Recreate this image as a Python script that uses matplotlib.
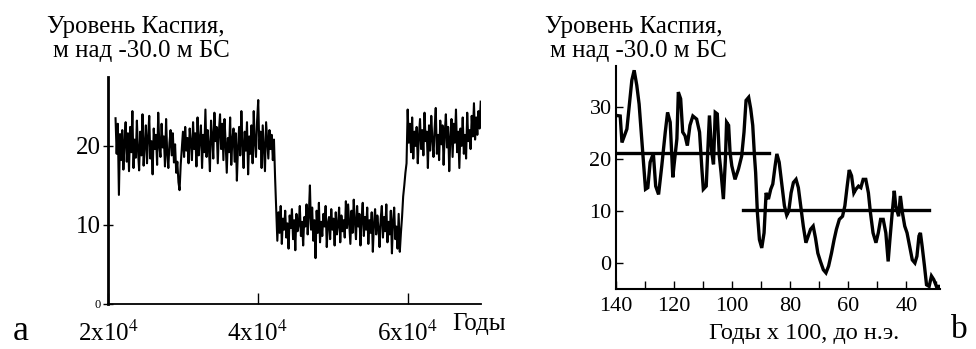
import matplotlib
matplotlib.use("Agg")
import matplotlib.pyplot as plt
import numpy as np

plt.rcParams['font.family'] = ['Liberation Serif', 'DejaVu Serif']
plt.rcParams['mathtext.fontset'] = 'stix'

# --- panel a: model series, level every 150 years starting at 21000 ---
year0 = 21000
step = 150
level_a = [
    # high stand ~20 m
    23.5, 19.0, 22.8, 13.8, 21.5, 18.2, 22.0, 17.0, 20.5, 23.0,
    18.0, 21.6, 16.8, 22.4, 19.2, 24.4, 17.2, 20.8, 18.5, 23.2,
    19.4, 16.9, 21.8, 18.8, 24.0, 17.5, 20.2, 22.6, 17.8, 21.0,
    23.8, 18.4, 20.6, 16.4, 22.2, 19.6, 21.4, 17.6, 24.2, 20.0,
    18.6, 22.8, 19.8, 21.2, 17.4, 23.4, 19.0, 17.2, 20.4, 22.0,
    18.8, 21.6, 17.9, 20.2, 16.6, 18.0, 15.4, 14.4, 17.6, 19.8,
    21.8, 18.6, 22.4, 19.4, 21.0, 17.8, 22.2, 20.4, 18.2, 23.0,
    19.6, 21.6, 17.4, 23.6, 18.8, 20.8, 22.6, 17.2, 21.4, 19.2,
    24.6, 18.6, 22.0, 20.0, 16.8, 23.2, 21.2, 18.4, 24.2, 20.6,
    22.4, 17.8, 21.8, 24.0, 19.6, 22.8, 18.2, 23.4, 20.4, 16.6,
    21.0, 19.2, 23.6, 17.6, 20.8, 22.2, 18.0, 21.6, 15.6, 19.8,
    22.4, 18.8, 24.4, 20.2, 17.2, 21.8, 19.4, 23.0, 16.4, 21.2,
    19.0, 22.6, 17.8, 24.4, 20.4, 18.6, 23.2, 25.8, 19.6, 21.8,
    17.2, 22.6, 19.8, 16.8, 23.0, 20.6, 18.4, 22.0, 19.6, 21.4,
    18.2, 20.8,
    # fall
    16.0, 12.0,
    # low stand ~10 m
    8.0, 11.6, 9.0, 12.4, 7.6, 10.8, 9.4, 11.8, 8.4, 10.2,
    7.0, 11.2, 9.6, 12.0, 8.2, 10.6, 6.8, 11.4, 9.2, 10.0,
    12.4, 8.6, 10.4, 7.4, 11.0, 9.8, 12.6, 8.8, 11.2, 15.0,
    9.4, 12.2, 8.0, 10.6, 5.8, 11.8, 9.0, 12.8, 7.8, 10.4,
    8.6, 11.4, 9.8, 12.4, 7.2, 10.2, 11.0, 8.2, 12.0, 9.4,
    10.8, 7.4, 11.6, 8.8, 10.0, 12.2, 7.8, 11.2, 9.2, 10.6,
    8.4, 13.0, 9.6, 12.6, 10.2, 7.6, 11.8, 9.0, 13.2, 10.4,
    8.2, 12.4, 9.8, 11.4, 7.4, 10.8, 12.8, 8.6, 11.0, 9.4,
    12.2, 7.6, 10.6, 9.0, 11.6, 6.6, 10.2, 12.0, 8.8, 11.2,
    9.6, 7.2, 10.8, 12.4, 8.4, 11.0, 9.2, 12.6, 7.8, 10.4,
    8.8, 11.8, 6.4, 10.6, 12.2, 8.2, 9.8, 7.0, 11.4, 6.6, 9.0,
    # rise
    11.0, 13.6, 15.0, 16.6, 17.8,
    # high stand ~21 m
    24.6, 20.4, 22.8, 19.2, 23.6, 18.4, 21.8, 20.0, 22.4, 17.8,
    21.2, 23.4, 19.6, 22.0, 18.8, 24.2, 20.6, 21.8, 17.2, 22.6,
    19.4, 23.8, 20.8, 18.6, 22.2, 24.8, 19.0, 21.4, 18.2, 23.2,
    20.2, 22.6, 17.6, 21.6, 24.0, 19.8, 22.4, 16.8, 21.0, 23.4,
    18.6, 22.8, 20.4, 24.6, 19.2, 21.8, 17.2, 22.2, 20.0, 23.6,
    19.0, 21.4, 18.4, 24.2, 20.6, 22.0, 19.6, 23.8, 21.2, 25.4,
    20.8, 23.6, 21.4, 24.4, 22.2, 25.6,
]
years_a = year0 + step * np.arange(len(level_a))

# --- panel b: reconstruction, years x100 BC ---
age_b = [139.7, 138.5, 137.9, 136.2, 134.5, 133.7, 132.8, 132.0, 131.1, 130.5,
         129.8, 129.0, 128.2, 127.1, 126.3, 125.3, 124.2, 123.0, 122.2, 121.3,
         120.8, 120.4, 120.0, 119.0, 118.5, 117.7, 117.0, 116.2, 115.4, 114.5,
         113.5, 112.2, 111.2, 110.4, 109.9, 108.9, 108.5, 107.8, 107.0, 106.4,
         105.8, 105.1, 104.4, 103.8, 103.0, 102.3, 101.9, 101.2, 100.7, 100.1,
         99.0, 97.8, 96.7, 95.9, 95.2, 94.3, 93.6, 92.9, 92.3, 91.9,
         91.3, 90.6, 89.8, 89.0, 88.3, 87.5, 86.7, 86.0, 85.2, 84.6,
         83.8, 82.8, 82.0, 81.2, 80.5, 79.7, 78.9, 78.0, 77.2, 76.4,
         75.5, 74.6, 73.8, 73.0, 72.1, 71.3, 70.5, 69.6, 68.6, 67.7,
         66.8, 65.8, 64.9, 64.1, 63.1, 62.0, 61.2, 60.4, 59.7, 58.9,
         58.1, 57.4, 56.5, 55.7, 54.9, 54.0, 53.1, 52.4, 51.5, 50.5,
         49.7, 48.9, 48.0, 47.1, 46.3, 45.7, 44.9, 44.2, 43.7, 42.7,
         42.1, 41.4, 40.6, 39.8, 38.9, 38.0, 37.1, 36.4, 35.7, 35.2,
         34.6, 33.8, 33.1, 32.2, 31.4, 30.6, 29.7, 28.8]
level_b = [28.4, 28.3, 23.2, 25.8, 35.2, 37.1, 34.2, 30.6, 23.9, 19.4,
           14.2, 14.5, 19.4, 21.1, 14.8, 13.2, 18.7, 25.2, 29.0, 27.1,
           21.3, 16.5, 18.7, 23.9, 32.9, 31.6, 25.2, 24.5, 22.6, 26.5,
           28.3, 27.7, 25.2, 18.1, 14.2, 14.8, 20.0, 28.4, 21.3, 19.0,
           29.0, 28.7, 20.6, 17.4, 12.3, 20.0, 27.1, 26.5, 21.3, 18.7,
           16.1, 18.1, 20.6, 25.2, 31.3, 31.9, 29.7, 26.5, 20.6, 17.4,
           9.7, 4.5, 2.9, 5.8, 13.5, 12.3, 14.2, 15.2, 18.7, 21.0,
           19.4, 14.8, 11.0, 9.2, 10.0, 13.5, 15.5, 16.1, 14.5, 11.0,
           7.1, 3.9, 5.2, 6.5, 7.1, 4.8, 1.9, 0.3, -1.3, -1.9,
           -0.6, 1.9, 4.5, 6.5, 8.4, 9.0, 11.0, 14.8, 17.9, 16.8,
           13.5, 14.2, 14.8, 14.5, 16.1, 16.1, 13.5, 9.7, 5.8, 3.9,
           5.8, 8.4, 8.4, 5.8, 0.3, 4.5, 9.7, 13.9, 11.0, 9.0,
           12.9, 9.7, 7.1, 5.8, 3.2, 0.6, 0.0, 1.3, 5.2, 5.8,
           3.2, -0.6, -4.2, -4.5, -2.5, -3.2, -4.5, -4.5]

# mean levels of the two stands
mean_high = 21.1
mean_high_span = (140, 87.2)
mean_low = 10.2
mean_low_span = (96.4, 32.2)

fig = plt.figure(figsize=(9.76, 3.49), dpi=100)

# panel a
ax1 = fig.add_axes([0.1107, 0.129, 0.3822, 0.650])
ax1.plot(years_a, level_a, color='black', lw=1.5)
ax1.set_xlim(2.1e4, 6.98e4)
ax1.set_ylim(0, 28.7)
ax1.set_xticks([2e4, 4e4, 6e4])
ax1.set_xticklabels([r'2x10$^4$', r'4x10$^4$', r'6x10$^4$'])
ax1.set_yticks([0, 10, 20])
ax1.set_yticklabels(['0', '10', '20'], fontsize=18)
ax1.get_yticklabels()[0].set_fontsize(9)
ax1.tick_params(axis='x', direction='in', length=8, width=1, labelsize=18, pad=12)
ax1.tick_params(axis='y', direction='inout', length=7, width=1, pad=2)
for s in ('top', 'right'):
    ax1.spines[s].set_visible(False)
ax1.spines['left'].set_linewidth(2)
ax1.spines['bottom'].set_linewidth(1.3)

fig.text(0.048, 1 - 33 / 349, 'Уровень Каспия,', fontsize=18, va='baseline', ha='left')
fig.text(0.054, 1 - 57 / 349, 'м над -30.0 м БС', fontsize=18, va='baseline', ha='left')
fig.text(0.463, 1 - 330 / 349, 'Годы', fontsize=18, va='baseline', ha='left')
fig.text(0.013, 1 - 340 / 349, 'a', fontsize=26, va='baseline', ha='left')

# panel b
ax2 = fig.add_axes([0.631, 0.172, 0.332, 0.640])
ax2.plot(age_b, level_b, color='black', lw=2.4, solid_joinstyle='miter')
ax2.plot(mean_high_span, [mean_high, mean_high], color='black', lw=2.4)
ax2.plot(mean_low_span, [mean_low, mean_low], color='black', lw=2.4)
ax2.set_xlim(140, 28.5)
ax2.set_ylim(-5, 38)
ax2.set_xticks(np.arange(140, 29, -10))
ax2.set_xticklabels(['140', '', '120', '', '100', '', '80', '', '60', '', '40', ''])
ax2.set_yticks([0, 10, 20, 30])
ax2.tick_params(axis='x', direction='in', length=6, width=1, labelsize=16, pad=6)
ax2.tick_params(axis='y', direction='in', length=5, width=1, labelsize=16, pad=3)
for s in ('top', 'right'):
    ax2.spines[s].set_visible(False)
ax2.spines['left'].set_linewidth(1.5)
ax2.spines['bottom'].set_linewidth(1.5)

fig.text(0.558, 1 - 33 / 349, 'Уровень Каспия,', fontsize=18, va='baseline', ha='left')
fig.text(0.564, 1 - 57 / 349, 'м над -30.0 м БС', fontsize=18, va='baseline', ha='left')
fig.text(0.726, 1 - 339 / 349, 'Годы х 100, до н.э.', fontsize=17.5, va='baseline', ha='left')
fig.text(0.992, 1 - 338 / 349, 'b', fontsize=24, va='baseline', ha='right')

fig.savefig('out.png', dpi=100)
